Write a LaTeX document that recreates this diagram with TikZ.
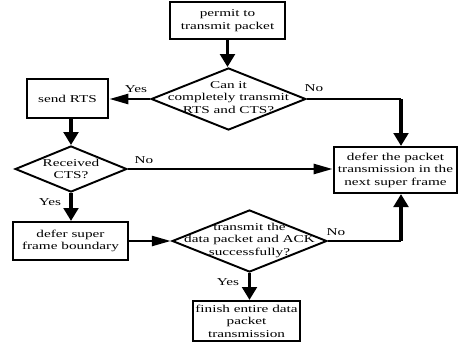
\documentclass[tikz,border=0pt]{standalone}
\usepackage{fontspec}
\setmainfont{Liberation Serif}
\usetikzlibrary{arrows.meta,shapes.geometric}
\begin{document}
\begin{tikzpicture}[x=1pt,y=-1pt]
\useasboundingbox (0,0) rectangle (458,343);
% the whole chart is drawn narrow and stretched sideways by 1.45
\begin{scope}[x=0.68966pt,y=-1pt,transform canvas={xscale=1.45},
  txtfont/.style={font=\fontsize{10.5}{12.5}\selectfont},
  box/.style={draw,rectangle,line width=2pt,inner sep=0pt,align=center,txtfont},
  dia/.style={draw,diamond,line width=1.8pt,inner sep=0pt},
  txt/.style={inner sep=0pt,align=center,txtfont},
  lab/.style={inner sep=0pt,txtfont},
  conn/.style={line width=2.4pt,-{Triangle[length=13pt,width=10pt]}},
  seg/.style={line width=2.4pt}]

% boxes
\node[box,minimum width={115pt/1.45},minimum height=37pt] (permit) at (227.5,20.5)
  {permit to\\transmit packet};
\node[box,minimum width={81pt/1.45},minimum height=39pt] (rts) at (67.5,98.5)
  {send RTS};
\node[box,minimum width={123pt/1.45},minimum height=46pt] (defer) at (395.5,170)
  {defer the packet\\transmission in the\\next super frame};
\node[box,minimum width={115pt/1.45},minimum height=38pt] (sfb) at (70.5,241)
  {defer super\\frame boundary};
\node[box,minimum width={107pt/1.45},minimum height=40pt] (finish) at (246.5,321)
  {finish entire data\\packet\\transmission};

% decisions
\node[dia,minimum width={155pt/1.45},minimum height=62pt] (d1) at (228.5,99) {};
\node[txt] (d1t) at (228.5,97.5) {Can it\\completely transmit\\RTS and CTS?};
\node[dia,minimum width={112pt/1.45},minimum height=46pt] (d2) at (71,169) {};
\node[txt] (d2t) at (71,169) {Received\\CTS?};
\node[dia,minimum width={155pt/1.45},minimum height=62pt] (d3) at (249.5,241) {};
\node[txt] (d3t) at (249.5,240) {transmit the\\data packet and ACK\\successfully?};

% bend points
\coordinate (k1) at (401,99);
\coordinate (k2) at (401,241);

% connectors
\draw[conn] (permit.south) -- (permit.south |- d1.north);
\draw[conn] (d1.west) -- (d1.west -| rts.east);
\draw[seg] (d1.east) -- (k1);
\draw[conn] (k1) -- (k1 |- defer.north);
\draw[conn] (d2.north |- rts.south) -- (d2.north);
\draw[conn] (d2.east) -- (d2.east -| defer.west);
\draw[conn] (d2.south) -- (d2.south |- sfb.north);
\draw[conn] (sfb.east) -- (sfb.east -| d3.west);
\draw[seg] (d3.east) -- (k2);
\draw[conn] (k2) -- (k2 |- defer.south);
\draw[conn] (d3.south) -- (d3.south |- finish.north);

% branch labels
\node[lab] (yes1) at (136,89) {Yes};
\node[lab] (no1) at (314,88) {No};
\node[lab] (no2) at (144,160) {No};
\node[lab] (yes2) at (50,202) {Yes};
\node[lab] (no3) at (336,232) {No};
\node[lab] (yes3) at (228,282) {Yes};
\end{scope}
\end{tikzpicture}
\end{document}
